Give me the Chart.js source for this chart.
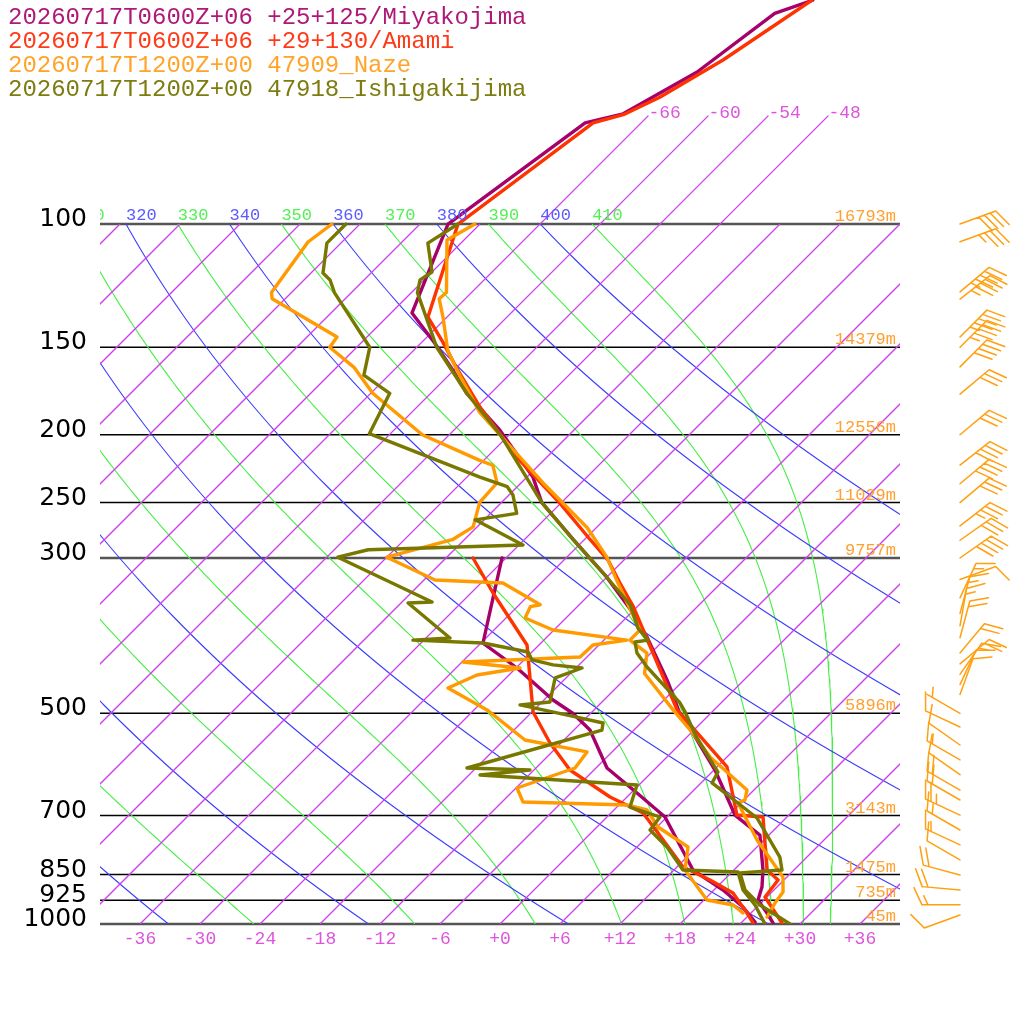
<!DOCTYPE html>
<html><head><meta charset="utf-8">
<script src="https://cdn.jsdelivr.net/npm/chart.js@4.4.1/dist/chart.umd.min.js"></script>
<style>html,body{margin:0;padding:0;background:#fff;overflow:hidden}#wrap{width:1024px;height:1024px}canvas{display:block}</style>
</head><body><div id="wrap"><canvas id="c" width="1024" height="1024"></canvas></div>
<script>
// ---------- profile data (pressure hPa, temperature / dewpoint °C) ----------
const miyaP  = [47.9, 50, 60.7, 69.6, 71.7, 100, 134, 148, 161.7, 174.5, 197, 229.9, 249.8, 282.5, 319.6, 359.5, 389.1, 448.1, 500, 533.7, 602.6, 698.8, 746.4, 837.3, 885.5, 924, 964.5, 996.7];
const miyaT  = [-61.1, -63.6, -65.5, -68.7, -71.6, -75.2, -69.9, -64.6, -60.1, -56.4, -49.4, -41.4, -38.0, -31.1, -24.0, -17.8, -14.0, -7.7, -3.1, 0.2, 6.1, 12.6, 17.1, 20.9, 22.5, 23.4, 25.6, 27.2];
const miyaDP = [300, 340.8, 396.8, 430.8, 478.6, 500, 528.3, 598.6, 649.9, 703.3, 837.3, 894.1, 945.6, 993.4];
const miyaTd = [-36.4, -33.4, -29.8, -23.9, -17.1, -13.8, -10.4, -4.9, 0.6, 5.8, 13.9, 18.9, 22.6, 25.3];

const amamiP  = [47.9, 58.3, 65.9, 69.8, 71.7, 100, 135.8, 147.5, 160.4, 182.6, 217.6, 250.5, 282.5, 302, 325.8, 352.1, 410.1, 494.5, 596.6, 698.8, 703.3, 837.3, 865, 915, 996.7];
const amamiT  = [-61.2, -64.1, -66.7, -68.6, -70.8, -74.2, -67.9, -63.9, -60.0, -53.7, -44.4, -36.1, -29.4, -25.6, -22.1, -18.4, -11.8, -3.7, 7.0, 12.8, 15.6, 21.3, 23.4, 23.8, 28.1];
const amamiDP = [300, 336.6, 399.4, 497.8, 551.3, 602.6, 658.5, 694, 741.3, 829, 865.3, 903, 964.5, 996.7];
const amamiTd = [-39.3, -33.8, -25.2, -17.9, -13.1, -8.4, -1.7, 3.2, 6.7, 12.6, 16.6, 20.2, 23.6, 25.2];

const nazeP  = [100, 105.4, 125.3, 127.9, 135.8, 151.5, 161.7, 185.8, 234.4, 271.6, 299.2, 325.8, 380.2, 393, 410.1, 438.6, 494.5, 533.7, 577.2, 643.6, 665.3, 671.5, 758.5, 856.8, 900, 933.3, 977.2];
const nazeT  = [-72.5, -73.7, -68.5, -68.6, -66.4, -62.6, -59.7, -53.2, -39.8, -30.9, -26.0, -22.3, -15.4, -15.4, -12.4, -10.6, -4.1, 0.2, 4.3, 11.3, 12.1, 11.7, 17.3, 23.6, 25.1, 25.4, 26.0];
const nazeDP = [100, 106.1, 125.3, 127.9, 145, 150, 160.4, 174.5, 200, 217.6, 221.1, 234.4, 249.8, 270.8, 282.5, 299.2, 322.5, 325.8, 349.9, 352.1, 365.4, 380.2, 393.0, 399.4, 415.4, 422.4, 430.8, 440.8, 460.2, 494.5, 546.0, 567.8, 598.6, 639.3, 669.4, 676.0, 687.3, 726.9, 776.2, 837.3, 924.1, 939.4, 964.5];
const nazeTd = [-86.8, -87.4, -86.0, -85.3, -75.0, -74.7, -70.2, -65.8, -56.7, -48.4, -46.6, -44.4, -44.2, -42.4, -43.2, -48.0, -40.9, -33.8, -27.9, -28.7, -28.1, -24.1, -15.7, -18.6, -18.7, -29.9, -23.6, -27.2, -28.8, -22.7, -15.9, -8.5, -8.1, -11.9, -9.9, 0.8, 3.3, 6.1, 11.1, 13.1, 18.3, 21.4, 23.2];

const ishiP  = [100, 106.5, 117.1, 120.2, 125.3, 150, 174.5, 200, 249.8, 282.5, 319.6, 349.9, 377.8, 393, 395.5, 410.1, 429.4, 483.3, 497.8, 540.1, 606.6, 628.8, 705.6, 802.6, 837.3, 845.5, 894.1, 939.4, 1000];
const ishiT  = [-74.2, -75.3, -72.0, -72.4, -71.4, -64.0, -56.4, -48.9, -38.0, -31.1, -24.0, -18.9, -15.8, -13.6, -14.7, -13.4, -11.0, -4.1, -2.7, 0.9, 6.6, 7.1, 15.1, 21.3, 22.8, 18.9, 21.1, 24.1, 29.0];
const ishiDP = [100, 106.5, 117.5, 120.2, 125.3, 150, 164.4, 174.5, 199.3, 229.9, 237.3, 243.9, 259, 264.6, 287.5, 292, 299.2, 346.7, 347.8, 390.4, 393, 396.8, 408.7, 419.5, 426.4, 430.8, 445, 481.8, 486.5, 507.6, 516.2, 528.3, 598.6, 602.6, 612.5, 633, 680.6, 703.3, 733.9, 776.2, 837.3, 842.8, 894.1, 939.4, 1000];
const ishiTd = [-85.4, -85.4, -82.8, -81.4, -79.7, -70.7, -68.5, -64.1, -62.1, -46.7, -43.0, -41.6, -39.4, -42.9, -35.6, -50.6, -52.9, -39.0, -41.3, -33.6, -37.1, -29.8, -24.4, -23.2, -20.6, -17.4, -19.1, -17.2, -19.9, -12.6, -9.8, -9.2, -18.9, -12.4, -16.9, -0.2, 1.3, 5.3, 5.6, 9.0, 12.9, 18.6, 20.9, 23.6, 26.5];

// wind barbs (Naze)
const windP   = [100, 106, 125, 128, 145, 150, 160, 175, 200, 221, 235, 250, 270, 283, 300, 322, 342, 360, 375, 390, 410, 425, 440, 455, 470, 500, 523, 555, 583, 612, 644, 665, 699, 734, 771, 810, 851, 894, 939, 971];
const windDir = [70, 70, 50, 52, 45, 45, 45, 50, 50, 52, 50, 50, 52, 55, 55, 70, 25, 15, 10, 15, 40, 50, 35, 25, 20, 300, 295, 305, 300, 305, 300, 300, 295, 300, 295, 300, 285, 275, 270, 250];
const windKt  = [40, 35, 45, 45, 45, 45, 40, 30, 30, 40, 40, 30, 35, 30, 40, 10, 15, 15, 15, 20, 20, 20, 15, 10, 10, 5, 10, 10, 15, 10, 20, 20, 25, 15, 15, 10, 20, 20, 15, 10];

// diagram furniture
const pressureLevels = [100, 150, 200, 250, 300, 500, 700, 850, 925, 1000];
const majorLevels = [100, 300, 1000];
const heightLabels = ['16793m', '14379m', '12556m', '11029m', '9757m', '5896m', '3143m', '1475m', '735m', '45m'];
const isothermTicks = [-108, -102, -96, -90, -84, -78, -72, -66, -60, -54, -48, -42, -36, -30, -24, -18, -12, -6, 0, 6, 12, 18, 24, 30, 36];
const isoTopLabels = [-66, -60, -54, -48];
const bottomTicks = [-36, -30, -24, -18, -12, -6, 0, 6, 12, 18, 24, 30, 36];
const dryThetas = [240, 260, 280, 300, 320, 340, 360, 380, 400];
const moistThetaEs = [250, 270, 290, 310, 330, 350, 370, 390, 410];
const titles = ['20260717T0600Z+06 +25+125/Miyakojima', '20260717T0600Z+06 +29+130/Amami', '20260717T1200Z+00 47909_Naze', '20260717T1200Z+00 47918_Ishigakijima'];

const COL = {miya:'#a8006a', amami:'#ff3300', naze:'#ff9a00', ishi:'#787800',
  iso:'rgb(206,64,234)', dry:'rgb(60,60,255)', moist:'rgb(70,238,70)', isoTxt:'#dd55dd', dryTxt:'#5a5aff', moistTxt:'#55ee55', hgt:'#ffa030'};
const titleCols = ['#b01878', '#ff3a18', '#ffa428', '#7c7c10'];

// ---------- skew-T transform ----------
const SKEW = 70;
const X = (T, p) => T + SKEW * Math.log10(1000 / p);
const series = (P, T) => P.map((p, i) => ({x: X(T[i], p), y: p}));

function esat(Tk){ const tc = Tk - 273.15; return 6.112 * Math.exp(17.67 * tc / (tc + 243.5)); }
function dTdlnp(T, p){
  const es = esat(T), rs = 0.622 * es / Math.max(p - es, 1e-6);
  const Rd = 287.04, Cp = 1005.7, Lv = 2.501e6;
  return (Rd * T + Lv * rs) / (Cp + Lv * Lv * rs * 0.622 / (Rd * T * T));
}
function dryLine(theta){
  const pts = []; const n = 80;
  for (let i = 0; i <= n; i++){ const p = 100 * Math.pow(10, i / n); pts.push({x: X(theta * Math.pow(p / 1000, 0.2857) - 273.15, p), y: p}); }
  return pts;
}
function moistLine(te){
  const n = 120, dl = Math.log(10) / n; let lnp = Math.log(100), T = te * Math.pow(0.1, 0.2857);
  const pts = [{x: X(T - 273.15, 100), y: 100}];
  for (let i = 0; i < n; i++){
    const p0 = Math.exp(lnp), pm = Math.exp(lnp + dl / 2), p1 = Math.exp(lnp + dl);
    const k1 = dTdlnp(T, p0), k2 = dTdlnp(T + k1 * dl / 2, pm), k3 = dTdlnp(T + k2 * dl / 2, pm), k4 = dTdlnp(T + k3 * dl, p1);
    T += dl * (k1 + 2 * k2 + 2 * k3 + k4) / 6; lnp += dl;
    pts.push({x: X(T - 273.15, Math.exp(lnp)), y: Math.exp(lnp)});
  }
  return pts;
}

const bg = (data, color, w) => ({data, borderColor: color, backgroundColor: color, borderWidth: w || 1.1, showLine: true, pointRadius: 0, order: 10, clip: 0, tension: 0});
const prof = (data, color) => ({data, borderColor: color, backgroundColor: color, borderWidth: 3.4, showLine: true, pointRadius: 0, order: 1, tension: 0, borderJoinStyle: 'round', borderCapStyle: 'round', clip: 0});

const datasets = [];
// profiles (first = top-most)
datasets.push(prof(series(ishiP, ishiT), COL.ishi), prof(series(ishiDP, ishiTd), COL.ishi));
datasets.push(prof(series(nazeP, nazeT), COL.naze), prof(series(nazeDP, nazeTd), COL.naze));
datasets.push(prof(series(amamiP, amamiT), COL.amami), prof(series(amamiDP, amamiTd), COL.amami));
datasets.push(prof(series(miyaP, miyaT), COL.miya), prof(series(miyaDP, miyaTd), COL.miya));
// background
isothermTicks.forEach(T => { const top = isoTopLabels.includes(T) ? 70 : 100; datasets.push(bg([{x: X(T, 1000), y: 1000}, {x: X(T, top), y: top}], COL.iso, 1.3)); });
dryThetas.forEach(t => datasets.push(bg(dryLine(t), COL.dry)));
moistThetaEs.forEach(t => datasets.push(bg(moistLine(t), COL.moist)));

function drawBarb(ctx, bx, by, dirDeg, kt){
  const d = dirDeg * Math.PI / 180, ux = Math.sin(d), uy = -Math.cos(d), L = 38;
  const tx = bx + ux * L, ty = by + uy * L;
  const a = Math.atan2(uy, ux) + 65 * Math.PI / 180, fx = Math.cos(a), fy = Math.sin(a);
  ctx.beginPath(); ctx.moveTo(bx, by); ctx.lineTo(tx, ty);
  let rem = Math.round(kt / 5) * 5, pos = 0;
  while (rem >= 10){ const sx = tx - ux * pos, sy = ty - uy * pos; ctx.moveTo(sx, sy); ctx.lineTo(sx + fx * 19, sy + fy * 19); rem -= 10; pos += 6; }
  if (rem >= 5){ if (pos === 0) pos = 6; const sx = tx - ux * pos, sy = ty - uy * pos; ctx.moveTo(sx, sy); ctx.lineTo(sx + fx * 10, sy + fy * 10); }
  ctx.stroke();
}

const skewPlugin = {
  id: 'skew',
  beforeDatasetsDraw(chart){
    const {ctx, chartArea: a, scales: {y}} = chart;
    ctx.save();
    pressureLevels.forEach(p => {
      const yy = y.getPixelForValue(p);
      const major = majorLevels.includes(p);
      ctx.strokeStyle = major ? '#555555' : '#000000';
      ctx.lineWidth = major ? 2.5 : 1.5;
      ctx.beginPath(); ctx.moveTo(a.left, yy); ctx.lineTo(a.right, yy); ctx.stroke();
    });
    ctx.restore();
  },
  afterDraw(chart){
    const {ctx, chartArea: a, scales: {x, y}} = chart;
    ctx.save();
    // titles
    ctx.font = '24px "Liberation Mono", monospace'; ctx.textAlign = 'left'; ctx.textBaseline = 'alphabetic';
    titles.forEach((t, i) => { ctx.fillStyle = titleCols[i]; ctx.fillText(t, 8, 24 + 24 * i); });
    // pressure labels
    ctx.font = '25px "DejaVu Sans", sans-serif'; ctx.fillStyle = '#000'; ctx.textAlign = 'right';
    pressureLevels.forEach(p => ctx.fillText(String(p), 87, y.getPixelForValue(p) + 2));
    // height labels
    ctx.font = '17px "Liberation Mono", monospace'; ctx.fillStyle = COL.hgt; ctx.textAlign = 'right';
    pressureLevels.forEach((p, i) => ctx.fillText(heightLabels[i], 896, y.getPixelForValue(p) - 3));
    // bottom isotherm labels
    ctx.font = '18px "Liberation Mono", monospace'; ctx.fillStyle = COL.isoTxt; ctx.textAlign = 'center';
    bottomTicks.forEach(T => ctx.fillText((T < 0 ? '-' : '+') + Math.abs(T), x.getPixelForValue(X(T, 1000)), 944));
    // top isotherm labels
    ctx.textAlign = 'left';
    isoTopLabels.forEach(T => ctx.fillText(String(T), x.getPixelForValue(X(T, 70)), y.getPixelForValue(70) + 2));
    // adiabat labels at 100 hPa
    ctx.save(); ctx.beginPath(); ctx.rect(a.left, 0, a.right - a.left, 1024); ctx.clip();
    ctx.font = '17px "Liberation Mono", monospace'; ctx.textAlign = 'left';
    const y100 = y.getPixelForValue(100) - 4;
    dryThetas.forEach(t => { ctx.fillStyle = COL.dryTxt; ctx.fillText(String(t), x.getPixelForValue(X(t * Math.pow(0.1, 0.2857) - 273.15, 100)), y100); });
    moistThetaEs.forEach(t => { ctx.fillStyle = COL.moistTxt; ctx.fillText(String(t), x.getPixelForValue(X(t * Math.pow(0.1, 0.2857) - 273.15, 100)), y100); });
    ctx.restore();
    // wind barbs
    ctx.strokeStyle = '#ffa010'; ctx.lineWidth = 1.5; ctx.lineCap = 'round';
    windP.forEach((p, i) => drawBarb(ctx, 960, y.getPixelForValue(p), windDir[i], windKt[i]));
    ctx.restore();
  }
};

new Chart(document.getElementById('c'), {
  type: 'scatter',
  data: {datasets},
  options: {
    responsive: false, animation: false, devicePixelRatio: 1, events: [],
    layout: {padding: {left: 100, right: 124, top: 0, bottom: 100}},
    plugins: {legend: {display: false}, tooltip: {enabled: false}},
    scales: {
      x: {type: 'linear', min: -40, max: 40, display: false, bounds: 'data'},
      y: {type: 'logarithmic', min: 47.86, max: 1000, reverse: true, display: false, bounds: 'data'}
    }
  },
  plugins: [skewPlugin]
});
</script></body></html>
